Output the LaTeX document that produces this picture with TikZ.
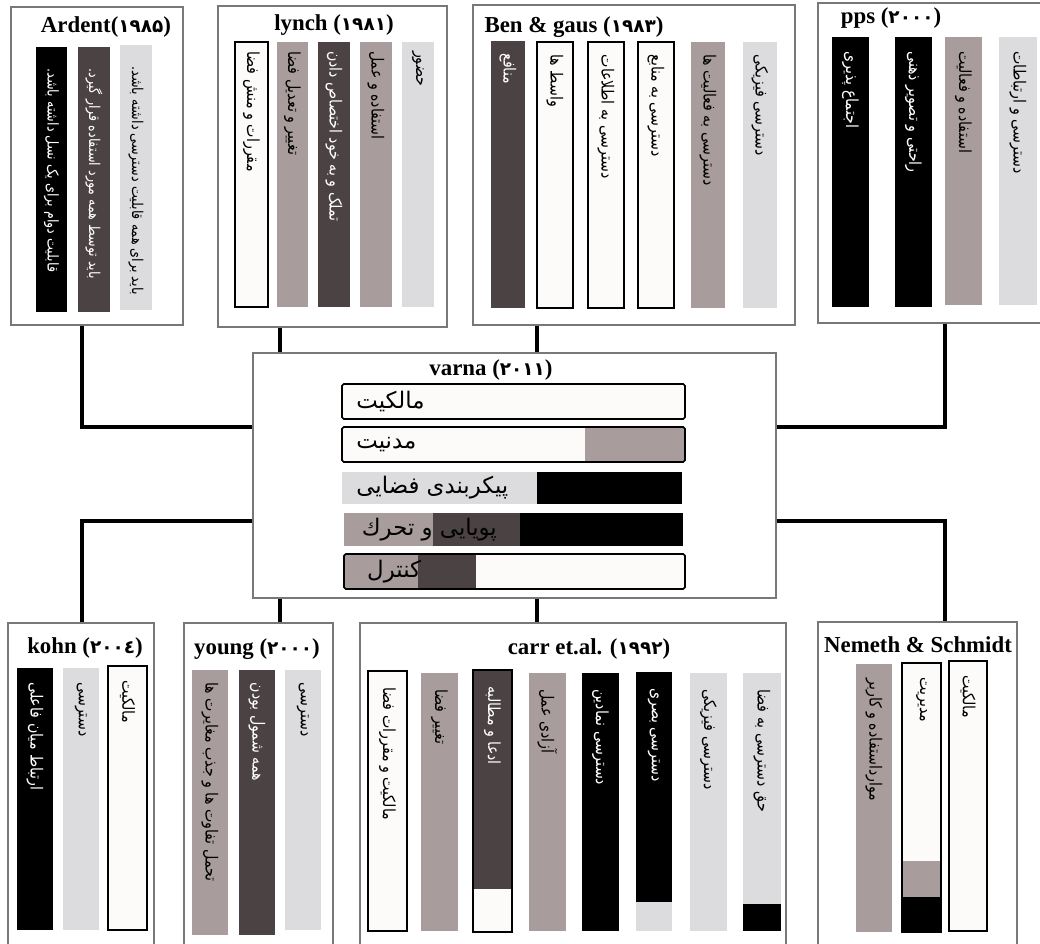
\documentclass[tikz,border=0pt]{standalone}
\usepackage{fontspec}
\setmainfont{Liberation Serif}
\newfontfamily\fa[Script=Arabic, FakeStretch=0.85]{DejaVu Sans}
\newfontfamily\faw[Script=Arabic]{DejaVu Sans}
\TeXXeTstate=1
\usetikzlibrary{fit}

\definecolor{cdark}{RGB}{74,66,67}
\definecolor{cmauve}{RGB}{168,156,156}
\definecolor{clight}{RGB}{220,220,222}
\definecolor{cwhite}{RGB}{253,250,250}
\definecolor{boxgray}{RGB}{120,120,120}

\tikzset{
  box/.style={draw=boxgray, line width=0.6pt, inner sep=0pt, fill=white},
  colbar/.style={inner sep=0pt, outer sep=0pt},
  barline/.style={draw=black, line width=0.9pt},
  link/.style={line width=1.9pt},
  title/.style={font=\fontsize{13}{15}\selectfont\bfseries, inner sep=0pt},
  vlab/.style={rotate=-90, anchor=west, font=\fa\fontsize{9.5}{11}\selectfont, inner sep=0pt},
  smallvlab/.style={vlab, font=\fa\fontsize{8.5}{10}\selectfont},
  hlab/.style={anchor=west, font=\faw\fontsize{13}{15}\selectfont, inner sep=0pt},
}
\newcommand{\yr}[1]{{\faw\fontsize{10.5}{13}\selectfont\bfseries #1}}

\begin{document}
\begin{tikzpicture}[x=0.02cm, y=-0.02cm]
    \useasboundingbox (0,0) rectangle (1040,943);
    \clip (0,0) rectangle (1040,943);

    % Boxes
    \node[box, fit={(11,7) (183,325)}] (ardent) {};
    \node[box, fit={(218,6) (447,327)}] (lynch) {};
    \node[box, fit={(473,5) (795,325)}] (bengaus) {};
    \node[box, fit={(818,3) (1050,323)}] (pps) {};
    \node[box, fit={(253,353) (776,598)}] (varna) {};
    \node[box, fit={(8,623) (154,960)}] (kohn) {};
    \node[box, fit={(184,623) (333,960)}] (young) {};
    \node[box, fit={(360,623) (786,960)}] (carr) {};
    \node[box, fit={(818,622) (1017,960)}] (nemeth) {};

    % Titles
    \node[title] (tardent) at (106,27) {Ardent(\yr{١٩٨۵})};
    \node[title] (tlynch) at (334,25) {lynch (\yr{١٩٨١})};
    \node[title] (tbengaus) at (574,27) {Ben \& gaus (\yr{١٩٨٣})};
    \node[title] (tpps) at (891,18) {pps (\yr{٢٠٠٠})};
    \node[title] (tvarna) at (491,370) {varna (\yr{٢٠١١})};
    \node[title] (tkohn) at (85,648) {kohn (\yr{٢٠٠٤})};
    \node[title] (tyoung) at (257,649) {young (\yr{٢٠٠٠})};
    \node[title] (tcarr) at (589,649) {carr et.al. (\yr{١٩٩٢})};
    \node[title] (tnemeth) at (918,645) {Nemeth \& Schmidt};

    % Connectors
    \coordinate (lcol) at (82,0);
    \coordinate (rcol) at (945,0);
    \coordinate (scol) at (280,0);
    \coordinate (mcol) at (537,0);
    \coordinate (hup) at (0,427);
    \coordinate (hdn) at (0,521);
    \draw[link] (ardent.south -| lcol) |- (varna.west |- hup);
    \draw[link] (varna.west |- hdn) -| (kohn.north -| lcol);
    \draw[link] (lynch.south -| scol) -- (varna.north -| scol);
    \draw[link] (bengaus.south -| mcol) -- (varna.north -| mcol);
    \draw[link] (pps.south -| rcol) |- (varna.east |- hup);
    \draw[link] (varna.east |- hdn) -| (nemeth.north -| rcol);
    \draw[link] (varna.south -| scol) -- (young.north -| scol);
    \draw[link] (varna.south -| mcol) -- (carr.north -| mcol);

    % Ardent
    \node[colbar, fill=black, fit={(36,47) (67,312)}] (ar1) {};
    \node[colbar, fill=cdark, fit={(78,47) (110,312)}] (ar2) {};
    \node[colbar, fill=clight, fit={(120,45) (152,310)}] (ar3) {};
    \node[smallvlab, text=white] (ar1t) at ([yshift=-12pt]ar1.north) {\beginR قابلیت دوام برای یک نسل داشته باشد.\endR};
    \node[smallvlab, text=white] (ar2t) at ([yshift=-12pt]ar2.north) {\beginR باید توسط همه مورد استفاده قرار گیرد.\endR};
    \node[smallvlab] (ar3t) at ([yshift=-12pt]ar3.north) {\beginR باید برای همه قابلیت دسترسی داشته باشد.\endR};

    % lynch
    \node[colbar, fill=cwhite, barline, fit={(235,42) (268,307)}] (ly1) {};
    \node[colbar, fill=cmauve, fit={(277,42) (308,307)}] (ly2) {};
    \node[colbar, fill=cdark, fit={(318,42) (350,307)}] (ly3) {};
    \node[colbar, fill=cmauve, fit={(360,42) (392,307)}] (ly4) {};
    \node[colbar, fill=clight, fit={(402,42) (434,307)}] (ly5) {};
    \node[vlab] (ly1t) at ([yshift=-5pt]ly1.north) {\beginR مقررات و منش فضا\endR};
    \node[vlab] (ly2t) at ([yshift=-5pt]ly2.north) {\beginR تغییر و تعدیل فضا\endR};
    \node[vlab, text=white] (ly3t) at ([yshift=-5pt]ly3.north) {\beginR تملک و به خود اختصاص دادن\endR};
    \node[vlab] (ly4t) at ([yshift=-5pt]ly4.north) {\beginR استفاده و عمل\endR};
    \node[vlab] (ly5t) at ([yshift=-5pt]ly5.north) {\beginR حضور\endR};

    % Ben & gaus
    \node[colbar, fill=cdark, fit={(491,41) (525,308)}] (bg1) {};
    \node[colbar, fill=cwhite, barline, fit={(537,42) (573,308)}] (bg2) {};
    \node[colbar, fill=cwhite, barline, fit={(588,42) (624,308)}] (bg3) {};
    \node[colbar, fill=cwhite, barline, fit={(638,42) (674,308)}] (bg4) {};
    \node[colbar, fill=cmauve, fit={(691,42) (725,308)}] (bg5) {};
    \node[colbar, fill=clight, fit={(743,42) (777,308)}] (bg6) {};
    \node[vlab, text=white] (bg1t) at ([yshift=-7pt]bg1.north) {\beginR منافع\endR};
    \node[vlab] (bg2t) at ([yshift=-7pt]bg2.north) {\beginR واسط ها\endR};
    \node[vlab] (bg3t) at ([yshift=-7pt]bg3.north) {\beginR دسترسی به اطلاعات\endR};
    \node[vlab] (bg4t) at ([yshift=-7pt]bg4.north) {\beginR دسترسی به منابع\endR};
    \node[vlab] (bg5t) at ([yshift=-7pt]bg5.north) {\beginR دسترسی به فعالیت ها\endR};
    \node[vlab] (bg6t) at ([yshift=-7pt]bg6.north) {\beginR دسترسی فیزیکی\endR};

    % pps
    \node[colbar, fill=black, fit={(832,37) (869,307)}] (pp1) {};
    \node[colbar, fill=black, fit={(895,37) (932,307)}] (pp2) {};
    \node[colbar, fill=cmauve, fit={(945,37) (982,305)}] (pp3) {};
    \node[colbar, fill=clight, fit={(999,37) (1037,305)}] (pp4) {};
    \node[vlab, text=white] (pp1t) at ([yshift=-8pt]pp1.north) {\beginR اجتماع پذیری\endR};
    \node[vlab, text=white] (pp2t) at ([yshift=-8pt]pp2.north) {\beginR راحتی و تصویر ذهنی\endR};
    \node[vlab] (pp3t) at ([yshift=-8pt]pp3.north) {\beginR استفاده و فعالیت\endR};
    \node[vlab] (pp4t) at ([yshift=-8pt]pp4.north) {\beginR دسترسی و ارتباطات\endR};

    % varna
    \node[colbar, fill=cwhite, fit={(342,384) (685,419)}] (va1) {};
    \node[colbar, fill=cwhite, fit={(342,427) (685,462)}] (va2) {};
    \fill[cmauve] (585,427) rectangle (685,462);
    \node[colbar, fill=clight, fit={(342,472) (682,504)}] (va3) {};
    \fill[black] (537,472) rectangle (682,504);
    \node[colbar, fill=cmauve, fit={(344,513) (683,546)}] (va4) {};
    \fill[cdark] (433,513) rectangle (520,546);
    \fill[black] (520,513) rectangle (683,546);
    \node[colbar, fill=cmauve, fit={(344,554) (685,589)}] (va5) {};
    \fill[cdark] (418,554) rectangle (476,589);
    \fill[cwhite] (476,554) rectangle (685,589);
    \draw[barline, rounded corners=1pt] (va1.south west) rectangle (va1.north east);
    \draw[barline, rounded corners=1pt] (va2.south west) rectangle (va2.north east);
    \draw[barline, rounded corners=1pt] (va5.south west) rectangle (va5.north east);
    \node[hlab] (va1t) at ([xshift=8pt]va1.west) {\beginR مالکیت\endR};
    \node[hlab] (va2t) at ([xshift=8pt]va2.west) {\beginR مدنیت\endR};
    \node[hlab] (va3t) at ([xshift=8pt]va3.west) {\beginR پیکربندی فضایی\endR};
    \node[hlab] (va4t) at ([xshift=10pt]va4.west) {\beginR پویایی و تحرك\endR};
    \node[hlab] (va5t) at ([xshift=13pt]va5.west) {\beginR کنترل\endR};

    % kohn
    \node[colbar, fill=black, fit={(17,668) (53,930)}] (ko1) {};
    \node[colbar, fill=clight, fit={(63,668) (99,930)}] (ko2) {};
    \node[colbar, fill=cwhite, barline, fit={(108,666) (147,930)}] (ko3) {};
    \node[vlab, text=white] (ko1t) at ([yshift=-8pt]ko1.north) {\beginR ارتباط میان فاعلی\endR};
    \node[vlab] (ko2t) at ([yshift=-8pt]ko2.north) {\beginR دسترسی\endR};
    \node[vlab] (ko3t) at ([yshift=-8pt]ko3.north) {\beginR مالکیت\endR};

    % young
    \node[colbar, fill=cmauve, fit={(192,670) (228,935)}] (yo1) {};
    \node[colbar, fill=cdark, fit={(239,670) (275,935)}] (yo2) {};
    \node[colbar, fill=clight, fit={(285,670) (321,930)}] (yo3) {};
    \node[vlab] (yo1t) at ([yshift=-7pt]yo1.north) {\beginR تحمل تفاوت ها و جذب مغایرت ها\endR};
    \node[vlab, text=white] (yo2t) at ([yshift=-7pt]yo2.north) {\beginR همه شمول بودن\endR};
    \node[vlab] (yo3t) at ([yshift=-7pt]yo3.north) {\beginR دسترسی\endR};

    % carr et.al.
    \node[colbar, fill=cwhite, barline, fit={(368,671) (407,931)}] (ca1) {};
    \node[colbar, fill=cmauve, fit={(421,673) (458,931)}] (ca2) {};
    \node[colbar, fill=cdark, fit={(473,670) (512,932)}] (ca3) {};
    \fill[cwhite] (473,889) rectangle (512,932);
    \draw[barline] (ca3.south west) rectangle (ca3.north east);
    \node[colbar, fill=cmauve, fit={(529,673) (566,931)}] (ca4) {};
    \node[colbar, fill=black, fit={(582,673) (619,931)}] (ca5) {};
    \node[colbar, fill=black, fit={(636,672) (672,931)}] (ca6) {};
    \fill[clight] (636,902) rectangle (672,931);
    \node[colbar, fill=clight, fit={(690,673) (727,931)}] (ca7) {};
    \node[colbar, fill=clight, fit={(743,673) (781,931)}] (ca8) {};
    \fill[black] (743,904) rectangle (781,931);
    \node[vlab] (ca1t) at ([yshift=-9pt]ca1.north) {\beginR مالکیت و مقررات فضا\endR};
    \node[vlab] (ca2t) at ([yshift=-9pt]ca2.north) {\beginR تغییر فضا\endR};
    \node[vlab, text=white] (ca3t) at ([yshift=-9pt]ca3.north) {\beginR ادعا و مطالبه\endR};
    \node[vlab] (ca4t) at ([yshift=-9pt]ca4.north) {\beginR آزادی عمل\endR};
    \node[vlab, text=white] (ca5t) at ([yshift=-9pt]ca5.north) {\beginR دسترسی نمادین\endR};
    \node[vlab, text=white] (ca6t) at ([yshift=-9pt]ca6.north) {\beginR دسترسی بصری\endR};
    \node[vlab] (ca7t) at ([yshift=-9pt]ca7.north) {\beginR دسترسی فیزیکی\endR};
    \node[vlab] (ca8t) at ([yshift=-9pt]ca8.north) {\beginR حق دسترسی به فضا\endR};

    % Nemeth & Schmidt
    \node[colbar, fill=cmauve, fit={(856,664) (892,932)}] (ne1) {};
    \node[colbar, fill=cwhite, fit={(902,663) (941,932)}] (ne2) {};
    \fill[cmauve] (902,861) rectangle (941,897);
    \fill[black] (902,897) rectangle (941,932);
    \draw[barline] (ne2.south west) rectangle (ne2.north east);
    \node[colbar, fill=cwhite, barline, fit={(949,661) (987,931)}] (ne3) {};
    \node[vlab] (ne1t) at ([yshift=-8pt]ne1.north) {\beginR موارداستفاده و کاربر\endR};
    \node[vlab] (ne2t) at ([yshift=-8pt]ne2.north) {\beginR مدیریت\endR};
    \node[vlab] (ne3t) at ([yshift=-8pt]ne3.north) {\beginR مالکیت\endR};
\end{tikzpicture}
\end{document}
